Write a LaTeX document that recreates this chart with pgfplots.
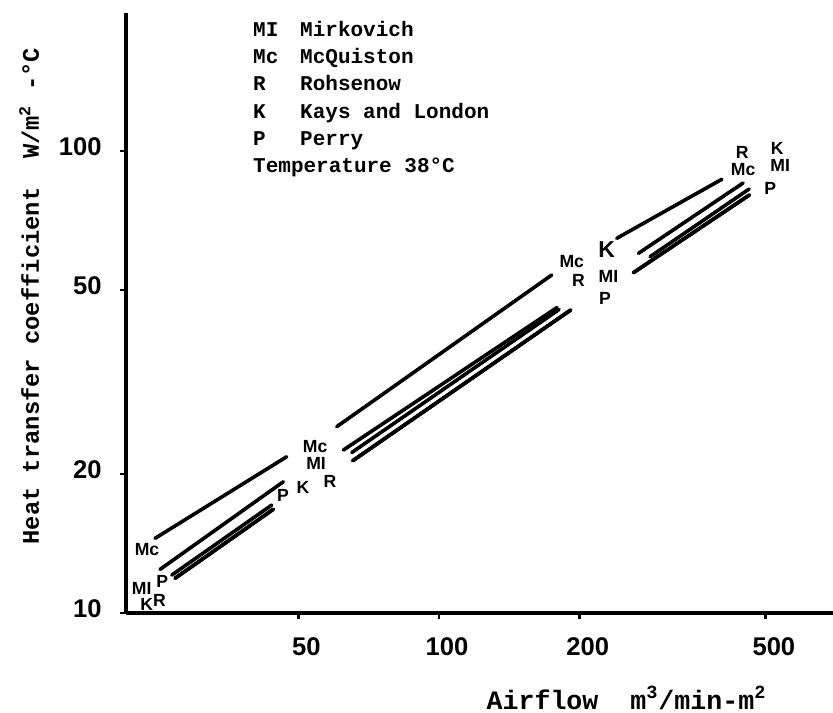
\documentclass[border=0pt]{standalone}
\usepackage{fontspec}
\setmainfont{Liberation Mono}
\setsansfont{Liberation Sans}
\usepackage{pgfplots}
\usepackage{pgfplotstable}
\pgfplotsset{compat=1.18}
\tikzset{hw/.style={font=\fontsize{8.8}{9}\sffamily\bfseries\selectfont, inner sep=0pt}}
\pgfplotsset{seg/.style={black, no marks, line width=1.8pt, line cap=round}}

% segments of each correlation, separated by nan rows
\pgfplotstableread{
x y
24.69 14.51
47.22 21.79
nan nan
60.42 25.31
174.2 53.91
nan nan
239.9 64.72
402.5 86.86
}\mcdata
\pgfplotstableread{
x y
25.31 12.43
46.45 19.24
nan nan
62.42 22.53
178.8 45.84
nan nan
260.4 54.53
461.1 80.32
}\midata
\pgfplotstableread{
x y
27.25 11.89
44.21 16.77
nan nan
65.05 22.25
180.6 45.39
nan nan
266.9 60.05
447.0 85.27
}\rdata
\pgfplotstableread{
x y
27.25 11.89
44.21 16.77
nan nan
65.37 21.36
191.3 45.28
nan nan
282.7 59.05
460.4 82.75
}\kdata
\pgfplotstableread{
x y
26.81 12.08
43.87 17.13
nan nan
65.37 21.36
191.3 45.28
nan nan
260.4 54.53
461.1 80.32
}\pdata

\begin{document}
\begin{tikzpicture}
\begin{axis}[
  scale only axis,
  width=353.5pt, height=300pt,
  xmode=log, ymode=log,
  xmin=21.4, xmax=696, ymin=10, ymax=199,
  axis x line=bottom, axis y line=left,
  axis line style={-, line width=2.2pt},
  xtick={50,100,200,500}, xticklabels={50,100,200,500},
  ytick={10,20,50,100}, yticklabels={10,20,50,100},
  xminorticks=false, yminorticks=false,
  tick align=outside, major tick length=3pt,
  tick style={line width=1.4pt, black},
  /pgf/number format/assume math mode=true,
  tick label style={font=\fontsize{12.8}{14}\sffamily\bfseries\selectfont},
  xticklabel style={anchor=north, inner sep=0pt, yshift=-9pt, xshift=4pt},
  yticklabel style={anchor=east, inner sep=0pt, xshift=-9pt, yshift=2pt},
  xlabel={Airflow\ \ m\textsuperscript{3}/min-m\textsuperscript{2}},
  ylabel={Heat transfer coefficient\ \ W/m\textsuperscript{2} -°C},
  xlabel style={font=\fontsize{13.3}{15}\bfseries\selectfont,
    at={(axis description cs:0.708,0)}, anchor=center, yshift=-42.5pt},
  ylabel style={font=\fontsize{11.9}{14}\bfseries\selectfont,
    at={(axis description cs:-0.137,0.528)}, anchor=center},
  unbounded coords=jump,
  clip=false,
]
\addplot[seg] table {\mcdata};
\addplot[seg] table {\midata};
\addplot[seg] table {\rdata};
\addplot[seg] table {\kdata};
\addplot[seg] table {\pdata};

% hand-written curve labels
\node[hw] at (axis cs:23.73,13.69) {Mc};
\node[hw] at (axis cs:23.12,11.31) {MI};
\node[hw] at (axis cs:25.59,11.69) {P};
\node[hw] at (axis cs:23.71,10.41) {K};
\node[hw] at (axis cs:25.22,10.67) {R};
\node[hw] at (axis cs:46.38,18.01) {P};
\node[hw] at (axis cs:51.19,18.74) {K};
\node[hw] at (axis cs:54.30,22.91) {Mc};
\node[hw] at (axis cs:54.57,21.12) {MI};
\node[hw] at (axis cs:58.46,19.31) {R};
\node[hw] at (axis cs:192.2,57.60) {Mc};
\node[hw] at (axis cs:198.6,52.59) {R};
\node[hw, font=\fontsize{11.5}{12}\sffamily\bfseries\selectfont] at (axis cs:228.4,61.05) {K};
\node[hw] at (axis cs:230.2,53.46) {MI};
\node[hw] at (axis cs:226.5,48.00) {P};
\node[hw] at (axis cs:444.8,99.50) {R};
\node[hw] at (axis cs:447.0,90.97) {Mc};
\node[hw] at (axis cs:528.5,101.5) {K};
\node[hw] at (axis cs:536.4,93.26) {MI};
\node[hw] at (axis cs:510.6,83.17) {P};

% key
\node[anchor=north west, inner sep=0pt, font=\fontsize{10.5}{13.65}\bfseries\selectfont]
  at (axis cs:39.97,195.3) {%
  \begin{tabular}{@{}p{23.5pt}@{}l@{}}
  MI & Mirkovich\\
  Mc & McQuiston\\
  R  & Rohsenow\\
  K  & Kays and London\\
  P  & Perry\\
  \multicolumn{2}{@{}l@{}}{Temperature 38°C}
  \end{tabular}};
\end{axis}
\pgfresetboundingbox
\path[use as bounding box] (-63pt,-49.5pt) rectangle (353.5pt,306.5pt);
\end{tikzpicture}
\end{document}
